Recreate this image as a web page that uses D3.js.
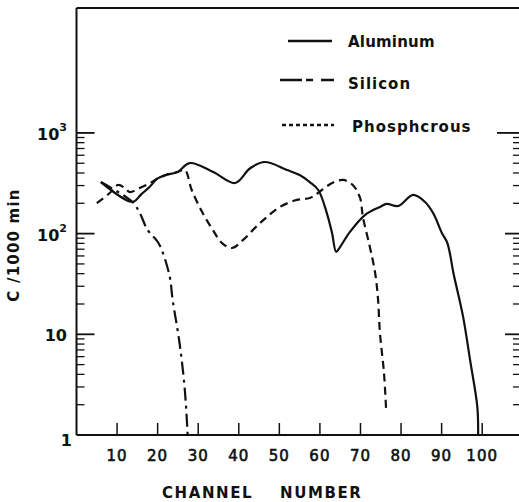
<!DOCTYPE html>
<html>
<head>
<meta charset="utf-8">
<script src="https://cdn.jsdelivr.net/npm/d3@7"></script>
<style>
html,body{margin:0;padding:0;background:#fff;}
svg{display:block;}
text{font-family:"DejaVu Sans",sans-serif;fill:#111;}
</style>
</head>
<body>
<svg id="chart" width="519" height="502"></svg>
<script>
// ---- data ----
const alX = [6, 13.8, 16, 18, 19.8, 22, 24.9, 27.9, 33.7, 39.1, 42.8, 46.4, 51.9, 55.0, 57.5, 59.6, 61.7, 63.0, 64.0, 65.0, 67.4, 71.1, 74.8, 76.5, 79.3, 83.0, 85.9, 87.9, 90.1, 91.4, 93.0, 95.3, 97.0, 98.8, 99.0];
const alY = [325, 206, 247, 290, 349, 382, 409, 502, 409, 318, 446, 514, 428, 382, 325, 271, 160, 101, 66, 74, 104, 153, 184, 197, 188, 242, 206, 160, 101, 81, 39, 14.9, 5.6, 1.9, 1];

const siX = [6, 13.8, 15.6, 17.5, 20.0, 21.2, 23.0, 23.7, 25.4, 26.7, 27.4];
const siY = [325, 206, 160, 109, 83, 66, 37, 22, 8.2, 2.8, 1];

const phX = [5.0, 8.2, 10.2, 11.9, 13.1, 15.6, 18.1, 19.8, 22.0, 24.9, 26.7, 28.4, 31.1, 33.6, 35.8, 38.3, 41.0, 44.0, 46.9, 50.1, 54.3, 57.5, 59.5, 63.0, 65.7, 68.1, 69.9, 70.6, 72.3, 73.6, 74.3, 74.8, 75.8, 76.3];
const phY = [201, 253, 304, 284, 259, 284, 318, 349, 382, 409, 428, 271, 160, 109, 81, 72, 86, 114, 146, 184, 216, 226, 253, 318, 341, 304, 226, 146, 74, 41, 23, 10.3, 4.1, 1.85];

const xTicks = [10, 20, 30, 40, 50, 60, 70, 80, 90, 100];
const yMajor = [1, 10, 100, 1000];
const yLabels = [{b:"1", e:""}, {b:"10", e:""}, {b:"10", e:"2"}, {b:"10", e:"3"}];
const legendNames = ["Aluminum", "Silicon", "Phosphcrous"];
const xTitleWords = ["CHANNEL", "NUMBER"];
const yTitle = "C /1000 min";

// ---- scales ----
const svg = d3.select("#chart");
const x = d3.scaleLinear().domain([0, 109]).range([76.5, 518.7]);
const y = d3.scaleLog().domain([1, 17400]).range([435, 8]);

const ink = "#111";

// frame: left axis, bottom axis, top line
svg.append("line").attr("x1", x(0)).attr("x2", x(0)).attr("y1", y(17400)).attr("y2", y(1))
  .attr("stroke", ink).attr("stroke-width", 2);
svg.append("line").attr("x1", x(0)).attr("x2", 519).attr("y1", y(1)).attr("y2", y(1))
  .attr("stroke", ink).attr("stroke-width", 2);
svg.append("line").attr("x1", x(0)).attr("x2", 519).attr("y1", y(17400)).attr("y2", y(17400))
  .attr("stroke", ink).attr("stroke-width", 2);

// minor values
const minors = [];
[1, 10, 100].forEach(d => { for (let k = 2; k <= 9; k++) minors.push(d * k); });

// left axis ticks (inward)
svg.append("g").selectAll("line.maj").data(yMajor.slice(1)).join("line")
  .attr("x1", x(0)).attr("x2", x(0) + 18).attr("y1", d => y(d)).attr("y2", d => y(d))
  .attr("stroke", ink).attr("stroke-width", 1.8);
svg.append("g").selectAll("line.min").data(minors).join("line")
  .attr("x1", x(0)).attr("x2", x(0) + 8).attr("y1", d => y(d)).attr("y2", d => y(d))
  .attr("stroke", ink).attr("stroke-width", 1.3);

// right axis ticks (inward, axis line off the picture)
svg.append("g").selectAll("line.rmaj").data(yMajor.slice(1)).join("line")
  .attr("x1", d => d === 1000 ? 497 : 505).attr("x2", 519).attr("y1", d => y(d)).attr("y2", d => y(d))
  .attr("stroke", ink).attr("stroke-width", 1.8);
svg.append("g").selectAll("line.rmin").data(minors).join("line")
  .attr("x1", 513).attr("x2", 519).attr("y1", d => y(d)).attr("y2", d => y(d))
  .attr("stroke", ink).attr("stroke-width", 1.3);

// bottom ticks (inward)
svg.append("g").selectAll("line.xt").data(xTicks).join("line")
  .attr("x1", d => x(d)).attr("x2", d => x(d)).attr("y1", y(1)).attr("y2", y(1) - 12)
  .attr("stroke", ink).attr("stroke-width", 1.5);

// x tick labels
svg.append("g").selectAll("text").data(xTicks).join("text")
  .attr("x", d => x(d)).attr("y", 461).attr("text-anchor", "middle")
  .attr("font-size", 15).attr("letter-spacing", 1)
  .attr("stroke", ink).attr("stroke-width", 0.6).text(d => d);

// y tick labels
const yl = svg.append("g").selectAll("text").data(yMajor).join("text")
  .attr("x", (d, i) => i === 0 ? 72 : 67).attr("y", d => y(d) + (d === 1 ? 11 : 7))
  .attr("text-anchor", "end").attr("font-size", 16).attr("font-weight", "bold");
yl.each(function(d, i) {
  const t = d3.select(this);
  t.append("tspan").text(yLabels[i].b);
  if (yLabels[i].e) t.append("tspan").attr("dy", -9).attr("font-size", 11).text(yLabels[i].e);
});

// axis titles
const xtPos = [162, 280];
xTitleWords.forEach((w, i) => {
  svg.append("text").attr("x", xtPos[i]).attr("y", 498)
    .attr("font-size", 15).attr("font-weight", "bold").attr("letter-spacing", 1.6).text(w);
});
svg.append("text").attr("transform", "translate(19,245) rotate(-90)").attr("text-anchor", "middle")
  .attr("font-size", 15).attr("font-weight", "bold").attr("letter-spacing", 1.2).text(yTitle);

// curves
const line = d3.line().x(d => x(d[0])).y(d => y(d[1])).curve(d3.curveCatmullRom.alpha(0.5));
const zip = (a, b) => a.map((v, i) => [v, b[i]]);

svg.append("path").datum(zip(phX, phY)).attr("d", line)
  .attr("fill", "none").attr("stroke", ink).attr("stroke-width", 2.2).attr("stroke-dasharray", "8,5");
svg.append("path").datum(zip(siX, siY)).attr("d", line)
  .attr("fill", "none").attr("stroke", ink).attr("stroke-width", 2.2).attr("stroke-dasharray", "13,5,3,5");
svg.append("path").datum(zip(alX, alY)).attr("d", line)
  .attr("fill", "none").attr("stroke", ink).attr("stroke-width", 2.2);

// legend
const lg = svg.append("g");
const legendRows = [
  {ly: 41, x1: 288, x2: 332, dash: null, tx: 348, ty: 47},
  {ly: 80, x1: 280, x2: 334, dash: "22,4,7,8,14", tx: 348, ty: 89},
  {ly: 125, x1: 282, x2: 334, dash: "4,3", tx: 352, ty: 132}
];
legendRows.forEach((r, i) => {
  lg.append("line").attr("x1", r.x1).attr("x2", r.x2).attr("y1", r.ly).attr("y2", r.ly)
    .attr("stroke", ink).attr("stroke-width", 2.6).attr("stroke-dasharray", r.dash);
  lg.append("text").attr("x", r.tx).attr("y", r.ty).attr("font-size", 15)
    .attr("font-weight", "bold").attr("letter-spacing", i === 0 ? 0.2 : 1).text(legendNames[i]);
});
</script>
</body>
</html>
